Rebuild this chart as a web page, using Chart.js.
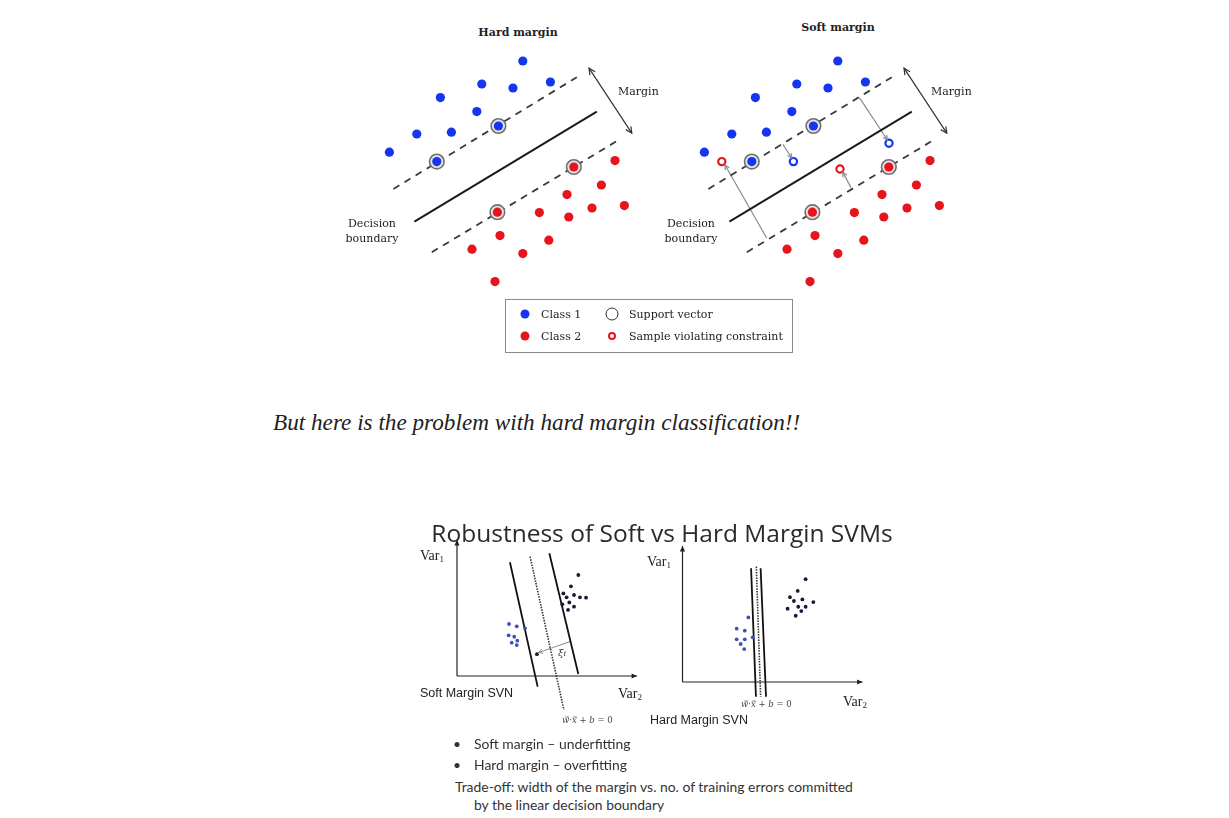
<!DOCTYPE html>
<html>
<head>
<meta charset="utf-8">
<script src="https://cdn.jsdelivr.net/npm/chart.js@4.4.1/dist/chart.umd.min.js"></script>
<style>
  body { margin: 0; background: #fff; width: 1229px; height: 818px; position: relative; overflow: hidden; }
  canvas { position: absolute; }
  .t { position: absolute; white-space: nowrap; line-height: 1; }
  .c { transform: translate(-50%, -50%); text-align: center; }
  .l { transform: translate(0, -50%); }
  .serif { font-family: "DejaVu Serif", serif; color: #222; font-size: 11px; }
  .var { font-family: "Liberation Serif", serif; font-size: 14px; color: #222; }
  .var sub { font-size: 9px; vertical-align: -2px; }
  .formula { font-family: "DejaVu Serif", serif; font-size: 8.5px; color: #444; }
  .sans { font-family: "Liberation Sans", sans-serif; font-size: 12.5px; color: #222; }
  .calib { font-family: "Lato", sans-serif; font-size: 13.9px; color: #333; }
  #legend { position: absolute; left: 505px; top: 299px; width: 286px; height: 52px; border: 1px solid #8a8a8a; }
  .mk { position: absolute; border-radius: 50%; transform: translate(-50%, -50%); box-sizing: border-box; }
</style>
</head>
<body>

<canvas id="hardChart" width="280" height="260" style="left:370px;top:40px;width:280px;height:260px"></canvas>
<canvas id="softChart" width="280" height="260" style="left:685px;top:40px;width:280px;height:260px"></canvas>
<canvas id="softSvm" width="234" height="198" style="left:430px;top:532px;width:234px;height:198px"></canvas>
<canvas id="hardSvm" width="234" height="198" style="left:660px;top:538px;width:234px;height:198px"></canvas>

<div class="t c serif" style="left:518px;top:32px;font-weight:bold;">Hard margin</div>
<div class="t c serif" style="left:838px;top:27px;font-weight:bold;">Soft margin</div>
<div class="t l serif" style="left:618px;top:91px;">Margin</div>
<div class="t l serif" style="left:931px;top:91px;">Margin</div>
<div class="t c serif" style="left:372px;top:231px;line-height:15px;">Decision<br>boundary</div>
<div class="t c serif" style="left:691px;top:231px;line-height:15px;">Decision<br>boundary</div>

<div id="legend">
  <span class="mk" style="left:19px;top:14px;width:9px;height:9px;background:#1535f0;"></span>
  <div class="t l serif" style="left:35px;top:14px;">Class 1</div>
  <span class="mk" style="left:19px;top:36px;width:9px;height:9px;background:#e8141c;"></span>
  <div class="t l serif" style="left:35px;top:36px;">Class 2</div>
  <span class="mk" style="left:106px;top:14px;width:13px;height:13px;border:1.3px solid #333;"></span>
  <div class="t l serif" style="left:123px;top:14px;">Support vector</div>
  <span class="mk" style="left:106px;top:36px;width:8px;height:8px;border:2.2px solid #e8141c;"></span>
  <div class="t l serif" style="left:123px;top:36px;">Sample violating constraint</div>
</div>

<div class="t l" style="left:273px;top:423px;font-family:'Liberation Serif',serif;font-style:italic;font-size:23.2px;color:#222;">But here is the problem with hard margin classification!!</div>

<div class="t c" style="left:662px;top:533px;font-family:'Open Sans',sans-serif;font-size:24.5px;color:#2a2a2a;">Robustness of Soft vs Hard Margin SVMs</div>

<div class="t l var" style="left:420px;top:556px;">Var<sub>1</sub></div>
<div class="t l var" style="left:618px;top:694px;">Var<sub>2</sub></div>
<div class="t l sans" style="left:420px;top:693px;">Soft Margin SVN</div>
<div class="t l formula" style="left:562px;top:720px;"><i>w</i>&#8407;&#183;<i>x</i>&#8407; + <i>b</i> = 0</div>
<div class="t c" style="left:562px;top:653px;font-family:'DejaVu Serif',serif;font-style:italic;font-size:10px;color:#444;">&#958;<span style="font-size:8px">i</span></div>

<div class="t l var" style="left:647px;top:562px;">Var<sub>1</sub></div>
<div class="t l var" style="left:843px;top:702px;">Var<sub>2</sub></div>
<div class="t l formula" style="left:741px;top:704px;"><i>w</i>&#8407;&#183;<i>x</i>&#8407; + <i>b</i> = 0</div>
<div class="t l sans" style="left:650px;top:720px;">Hard Margin SVN</div>

<div class="t l calib" style="left:453px;top:744px;">&#8226;</div>
<div class="t l calib" style="left:474px;top:744px;">Soft margin &#8211; underfitting</div>
<div class="t l calib" style="left:453px;top:765px;">&#8226;</div>
<div class="t l calib" style="left:474px;top:765px;">Hard margin &#8211; overfitting</div>
<div class="t l calib" style="left:455px;top:787px;">Trade-off: width of the margin vs. no. of training errors committed</div>
<div class="t l calib" style="left:474px;top:805px;">by the linear decision boundary</div>

<script>
// top diagrams: both use the same point layout, soft margin adds violators
const class1 = [[7.64, 11.95], [5.59, 10.8], [7.15, 10.6], [9.02, 10.9], [3.52, 10.12], [5.34, 9.42],
                [4.07, 8.39], [2.34, 8.3], [0.97, 7.39], [6.42, 8.7], [3.34, 6.92]];
const class2 = [[12.25, 6.97], [11.57, 5.75], [9.85, 5.27], [11.1, 4.6], [12.72, 4.72], [8.47, 4.37],
                [9.94, 4.15], [6.5, 3.22], [8.94, 2.99], [5.1, 2.54], [7.64, 2.32], [6.25, 0.92],
                [10.19, 6.65], [6.37, 4.39]];
const supportVectors = [[6.42, 8.7], [3.34, 6.92], [10.19, 6.65], [6.37, 4.39]];
const marginUpper = [[1.17, 5.55], [10.34, 11.14]];
const boundary = [[2.22, 3.92], [11.34, 9.42]];
const marginLower = [[3.09, 2.39], [12.3, 7.92]];
const marginArrow = [[10.95, 11.59], [13.09, 8.34]];

const violators1 = [[5.42, 6.92], [10.2, 7.84]];
const violators2 = [[1.84, 6.92], [7.75, 6.55]];
const slackArrows = [
    [[4.09, 3.09], [2.0, 6.75]],
    [[4.89, 7.79], [5.34, 7.09]],
    [[8.72, 10.12], [10.12, 8.0]],
    [[8.3, 5.62], [7.89, 6.39]]
];

// bottom diagrams
const softBlue = [[2.89, 2.89], [3.32, 2.76], [2.87, 2.26], [3.18, 2.18], [3.35, 1.96], [3.32, 1.72], [3.04, 1.85], [3.78, 2.65]];
const softDark = [[6.74, 5.61], [6.33, 4.98], [5.91, 4.59], [6.09, 4.37], [6.5, 4.5], [6.83, 4.37], [7.17, 4.35],
                  [6.24, 4.09], [6.5, 3.85], [6.17, 3.67], [5.85, 3.98], [4.44, 1.21]];
const softLeft = [[2.94, 6.32], [4.48, -0.59]];
const softMid = [[4.06, 6.63], [5.94, -1.89]];
const softRight = [[5.13, 6.82], [6.74, 0.11]];
const softSlack = [[6.28, 1.91], [4.52, 1.3]];

const hardBlue = [[3.66, 3.59], [3.01, 2.96], [3.46, 2.85], [3.01, 2.37], [3.46, 2.37], [3.23, 2.11], [3.43, 1.83], [3.9, 2.48]];
const hardDark = [[6.84, 5.71], [6.4, 5.06], [5.97, 4.71], [6.19, 4.5], [6.66, 4.59], [7.27, 4.44], [5.84, 4.07],
                  [6.43, 4.18], [6.84, 4.18], [6.6, 3.94], [6.29, 3.68]];
const hardLeft = [[3.81, 6.32], [4.08, -0.82]];
const hardMid = [[4.1, 6.41], [4.34, -0.82]];
const hardRight = [[4.34, 6.32], [4.64, -0.82]];

const xAxisLine = [[0, 0], [10, 0]];
const yAxisLine = [[0, 0], [0, 7.55]];

const BLUE = '#1535f0';
const RED = '#e8141c';

function pts(arr) {
    return arr.map(p => ({ x: p[0], y: p[1] }));
}

function dots(arr, color, r) {
    return { data: pts(arr), backgroundColor: color, borderWidth: 0, pointRadius: r, order: 0 };
}

function line(arr, color, width, dash, extra) {
    return Object.assign({
        data: pts(arr), showLine: true, borderColor: color, borderWidth: width,
        borderDash: dash || [], pointRadius: 0, fill: false, tension: 0, order: 2, clip: false
    }, extra || {});
}

// draws arrow heads at the ends of line datasets that ask for them
const arrowPlugin = {
    id: 'arrowHeads',
    afterDatasetsDraw(chart) {
        const ctx = chart.ctx;
        chart.data.datasets.forEach((ds, i) => {
            if (!ds.arrow) return;
            const p = chart.getDatasetMeta(i).data;
            const a = p[0], b = p[p.length - 1];
            ctx.save();
            ctx.strokeStyle = ds.borderColor;
            ctx.fillStyle = ds.borderColor;
            ctx.lineWidth = ds.borderWidth;
            if (ds.arrow === 'end' || ds.arrow === 'both') head(ctx, b, a, ds.headSize, ds.headFill);
            if (ds.arrow === 'both') head(ctx, a, b, ds.headSize, ds.headFill);
            ctx.restore();
        });
    }
};

function head(ctx, tip, from, size, filled) {
    const ang = Math.atan2(tip.y - from.y, tip.x - from.x);
    const s = size || 7;
    const x1 = tip.x - s * Math.cos(ang - 0.45), y1 = tip.y - s * Math.sin(ang - 0.45);
    const x2 = tip.x - s * Math.cos(ang + 0.45), y2 = tip.y - s * Math.sin(ang + 0.45);
    ctx.beginPath();
    ctx.moveTo(x1, y1);
    ctx.lineTo(tip.x, tip.y);
    ctx.lineTo(x2, y2);
    if (filled) {
        ctx.closePath();
        ctx.fill();
    } else {
        ctx.stroke();
    }
}

function makeChart(id, xr, yr, datasets) {
    return new Chart(document.getElementById(id), {
        type: 'scatter',
        data: { datasets: datasets },
        options: {
            responsive: false,
            animation: false,
            layout: { padding: 0, autoPadding: false },
            plugins: { legend: { display: false }, tooltip: { enabled: false } },
            scales: {
                x: { type: 'linear', display: false, min: xr[0], max: xr[1] },
                y: { type: 'linear', display: false, min: yr[0], max: yr[1] }
            }
        },
        plugins: [arrowPlugin]
    });
}

function marginDatasets() {
    return [
        dots(class1, BLUE, 4.6),
        dots(class2, RED, 4.6),
        { data: pts(supportVectors), backgroundColor: '#e4e4e4', borderColor: '#707070', borderWidth: 1.6, pointRadius: 7.3, order: 1 },
        line(marginUpper, '#3a3a3a', 1.8, [7, 6]),
        line(marginLower, '#3a3a3a', 1.8, [7, 6]),
        line(boundary, '#1a1a1a', 2),
        line(marginArrow, '#333', 1.2, [], { arrow: 'both', headSize: 7 })
    ];
}

makeChart('hardChart', [0, 14], [0, 13], marginDatasets());

const softSets = marginDatasets();
softSets.push({ data: pts(violators1), backgroundColor: '#fff', borderColor: BLUE, borderWidth: 2.2, pointRadius: 3.6, order: 0 });
softSets.push({ data: pts(violators2), backgroundColor: '#fff', borderColor: RED, borderWidth: 2.2, pointRadius: 3.6, order: 0 });
slackArrows.forEach(a => softSets.push(line(a, '#8a8a8a', 1.2, [], { arrow: 'end', headSize: 5 })));
makeChart('softChart', [0, 14], [0, 13], softSets);

function axes() {
    return [
        line(xAxisLine, '#222', 1.2, [], { arrow: 'end', headSize: 6, headFill: true }),
        line(yAxisLine, '#222', 1.2, [], { arrow: 'end', headSize: 6, headFill: true })
    ];
}

makeChart('softSvm', [-1.5, 11.5], [-3, 8], axes().concat([
    dots(softBlue, '#3d52b8', 1.9),
    dots(softDark, '#17183c', 1.9),
    line(softLeft, '#111', 1.8),
    line(softMid, '#333', 1.6, [1.5, 1.2]),
    line(softRight, '#111', 1.8),
    line(softSlack, '#8a8a8a', 1, [], { arrow: 'end', headSize: 5 })
]));

makeChart('hardSvm', [-1.25, 11.75], [-3, 8], axes().concat([
    dots(hardBlue, '#3d52b8', 1.9),
    dots(hardDark, '#17183c', 1.9),
    line(hardLeft, '#111', 1.8),
    line(hardMid, '#333', 1.6, [1.5, 1.2]),
    line(hardRight, '#111', 1.8)
]));
</script>
</body>
</html>
